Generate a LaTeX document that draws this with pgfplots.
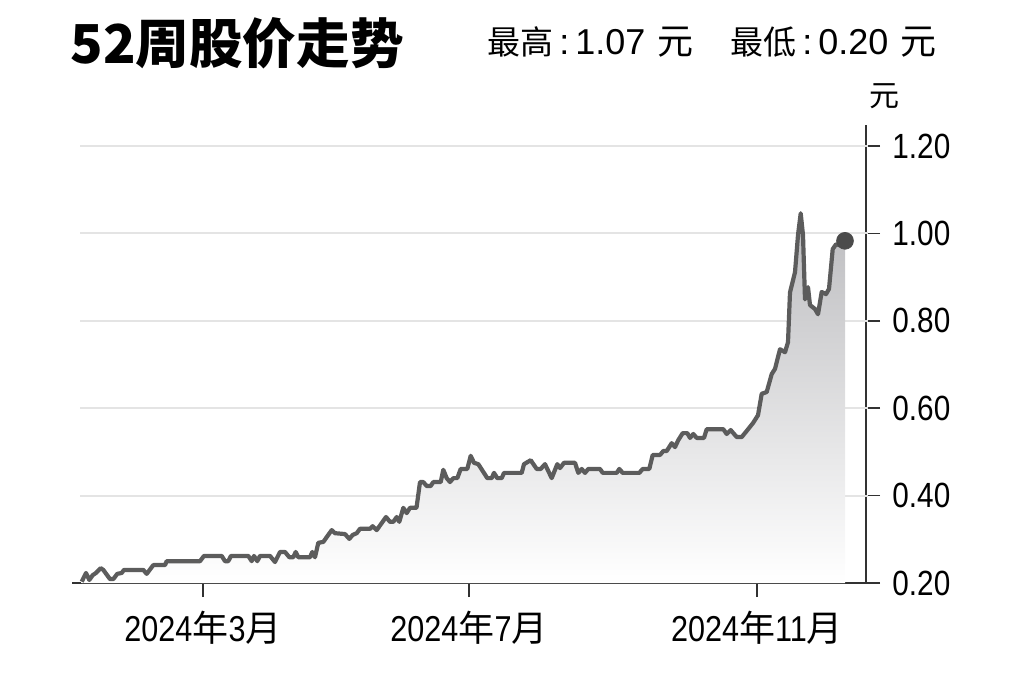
\documentclass[border=0pt]{standalone}
\usepackage{fontspec}
\usepackage{pgfplots}
\pgfplotsset{compat=1.18}
\setmainfont{Liberation Sans}[FakeStretch=0.85]
\newfontfamily\numw{Liberation Sans}
\newfontfamily\cjk{Noto Sans CJK SC}
\definecolor{lc}{RGB}{92,92,92}
\definecolor{axc}{RGB}{50,50,50}
\definecolor{gridc}{RGB}{228,228,228}
\definecolor{dotc}{RGB}{75,75,75}
\definecolor{shadec}{RGB}{188,188,191}
\pgfplotstableread{
x y
81.7 0.203
86 0.223
89.3 0.207
92.7 0.218
96 0.223
100.7 0.234
103.3 0.230
110 0.209
113.3 0.209
117.3 0.221
121.7 0.223
124 0.230
143.3 0.230
146.7 0.221
153.3 0.241
165 0.241
166.7 0.250
200 0.250
204 0.262
221.7 0.262
225 0.250
228.3 0.250
231 0.262
248.3 0.262
251.7 0.250
254 0.262
257.3 0.250
260 0.262
270 0.262
275 0.248
280 0.271
285 0.271
289.3 0.259
293.3 0.259
295.7 0.271
298.3 0.259
310 0.259
312.3 0.271
315 0.259
318.3 0.292
323.3 0.294
326.7 0.305
331.7 0.321
335 0.314
345 0.312
349.3 0.301
352.7 0.310
356.7 0.314
360 0.324
370 0.324
372.7 0.330
376.7 0.321
386 0.351
390 0.340
393.3 0.340
396.7 0.351
399.3 0.340
403.3 0.372
406.7 0.360
410 0.372
416.5 0.372
420 0.431
423.3 0.431
426.7 0.422
430.7 0.422
433.3 0.431
440.7 0.431
443.3 0.459
446.7 0.440
450 0.431
453.3 0.440
457.3 0.440
460.7 0.461
467.3 0.461
470.7 0.491
474 0.475
478.3 0.472
487.3 0.440
491.7 0.440
494 0.452
497.3 0.440
501.7 0.440
504 0.452
521.7 0.452
524 0.472
530.7 0.481
536.7 0.461
540.7 0.461
545 0.472
551.7 0.440
557.3 0.472
560 0.463
564 0.475
575 0.475
578.3 0.452
581.7 0.461
585 0.452
588.3 0.461
600 0.461
602.7 0.452
616.7 0.452
619.3 0.461
622.7 0.452
639.3 0.452
642.7 0.461
649.3 0.461
652.7 0.493
660 0.493
663.3 0.502
666.7 0.502
671.7 0.520
675 0.511
678.3 0.527
682.7 0.543
687.3 0.543
690 0.532
693.3 0.541
696.7 0.532
704 0.532
706.7 0.552
723.3 0.552
726.7 0.541
730.7 0.550
736.7 0.534
741.7 0.534
746.7 0.548
753 0.566
758 0.584
761.7 0.633
766.7 0.637
771.7 0.678
775 0.690
780 0.735
785 0.728
788 0.751
790 0.865
795 0.911
798 0.996
800.7 1.046
803 0.996
805 0.849
808 0.877
810 0.836
815 0.827
818 0.815
821.7 0.866
826 0.861
829 0.873
832.7 0.964
836 0.975
840 0.973
845 0.983
}\pricedata
\begin{document}
\begin{tikzpicture}
\begin{axis}[
  at={(36pt,-291.5pt)}, anchor=south west,
  scale only axis, width=397pt, height=229pt,
  xmin=72, xmax=866, ymin=0.2, ymax=1.248,
  axis x line*=bottom, axis y line*=right,
  axis line style={draw=axc, line width=0.75pt, -},
  xtick={203,469,757},
  xticklabels={{2024{\cjk 年}3{\cjk 月}},{2024{\cjk 年}7{\cjk 月}},{2024{\cjk 年}11{\cjk 月}}},
  ytick={0.2,0.4,0.6,0.8,1.0,1.2},
  tick align=outside, major tick length=7pt,
  tick style={draw=axc, line width=0.75pt},
  x tick label style={font=\fontsize{18}{18}\selectfont, inner sep=0pt, yshift=-7pt},
  y tick label style={font=\fontsize{17.5}{17.5}\selectfont, inner sep=0pt, anchor=west, xshift=6pt},
  /pgf/number format/.cd, fixed, fixed zerofill, precision=2, assume math mode=true,
  /pgfplots/.cd,
  clip=false,
]
\foreach \v in {0.4,0.6,0.8,1.0,1.2} {
  \edef\tmp{\noexpand\draw[gridc, line width=1pt] (axis cs:80,\v) -- (axis cs:868,\v);}
  \tmp
}
\addplot[draw=none, top color=shadec, bottom color=white] table[x=x,y=y] {\pricedata} \closedcycle;
\addplot[lc, line width=2.1pt, line join=round] table[x=x,y=y] {\pricedata};
\addplot[only marks, mark=*, mark size=4.2pt, color=dotc] coordinates {(845,0.983)};
\end{axis}
\node[anchor=west, inner sep=0pt] at (35pt,-21.5pt) {\cjk\bfseries\fontsize{26.8}{26.8}\selectfont 52周股价走势};
\node[anchor=west, inner sep=0pt] at (243.5pt,-21pt) {{\cjk\fontsize{16.5}{16.5}\selectfont 最高}\hspace{3pt}{\numw\fontsize{18}{18}\selectfont :\hspace{3pt}1.07}\hspace{6pt}{\cjk\fontsize{18}{18}\selectfont 元}};
\node[anchor=west, inner sep=0pt] at (365pt,-21pt) {{\cjk\fontsize{16.5}{16.5}\selectfont 最低}\hspace{3pt}{\numw\fontsize{18}{18}\selectfont :\hspace{3pt}0.20}\hspace{6pt}{\cjk\fontsize{18}{18}\selectfont 元}};
\node[inner sep=0pt] at (442pt,-48pt) {\cjk\fontsize{15}{15}\selectfont 元};
\pgfresetboundingbox
\path (0pt,0pt) rectangle (512pt,-341pt);
\end{tikzpicture}
\end{document}
